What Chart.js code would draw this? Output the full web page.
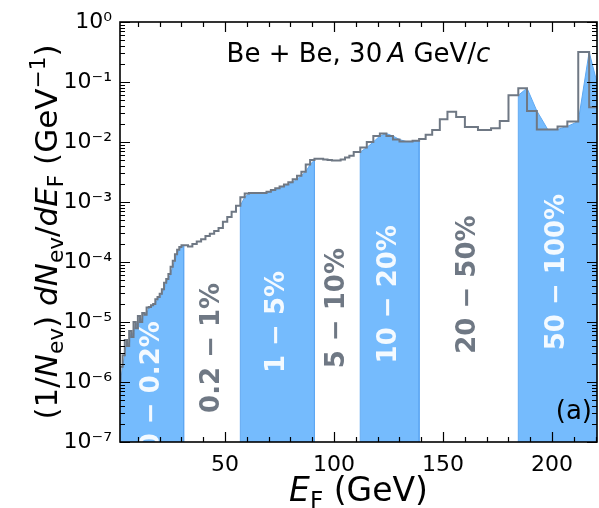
<!DOCTYPE html>
<html>
<head>
<meta charset="utf-8">
<script src="https://cdn.jsdelivr.net/npm/chart.js@4.4.1/dist/chart.umd.min.js"></script>
<style>
  html, body { margin: 0; padding: 0; background: #fff; }
  #wrap { width: 599px; height: 508px; }
</style>
</head>
<body>
<div id="wrap"><canvas id="chart" width="599" height="508"></canvas></div>
<script>
// E_F histogram: right edge of each bin (GeV) and its density (1/GeV)
const binEdge = [
  1, 2, 3, 4, 5, 6, 7, 8, 9, 10, 11, 12, 13, 14, 15, 16, 17, 18, 19, 20,
  21, 22, 23, 24, 25, 26, 27, 28, 29, 30, 31,
  33, 35, 37, 39, 41, 43, 45, 47, 49, 51, 53, 55, 57, 59, 61, 63, 65, 67, 69,
  71, 73, 75, 77, 79, 81, 83, 85, 87, 89, 91, 93, 95, 97, 99, 101, 103, 105, 107, 109,
  112, 115, 118, 121, 124, 127, 130, 133, 136, 139, 142, 145, 148.5, 152, 156, 160,
  166, 172, 176, 180, 184.5, 188.5, 193, 198, 202.5, 207, 212, 217, 223.5
];
const density = [
  5.0e-7, 1.0e-6, 1.8e-6, 2.8e-6, 5.0e-6, 4.0e-6, 7.1e-6, 5.6e-6, 1.0e-5, 7.9e-6,
  1.26e-5, 1.0e-5, 1.41e-5, 1.32e-5, 1.74e-5, 1.78e-5, 1.9e-5, 2.0e-5, 2.4e-5, 2.6e-5,
  2.95e-5, 3.5e-5, 4.5e-5, 5.2e-5, 6.3e-5, 8.3e-5, 1.05e-4, 1.35e-4, 1.6e-4, 1.78e-4, 1.9e-4,
  1.9e-4, 1.82e-4, 2.0e-4, 2.2e-4, 2.4e-4, 2.7e-4, 2.95e-4, 3.3e-4, 3.7e-4, 4.7e-4,
  5.6e-4, 6.9e-4, 8.7e-4, 1.2e-3, 1.38e-3, 1.41e-3, 1.41e-3, 1.41e-3, 1.41e-3,
  1.48e-3, 1.58e-3, 1.7e-3, 1.82e-3, 1.95e-3, 2.14e-3, 2.4e-3, 2.75e-3, 3.2e-3, 4.2e-3,
  5.0e-3, 5.25e-3, 5.25e-3, 5.1e-3, 5.0e-3, 4.9e-3, 4.9e-3, 5.1e-3, 5.5e-3, 5.9e-3,
  6.8e-3, 8.1e-3, 1.0e-2, 1.26e-2, 1.38e-2, 1.26e-2, 1.1e-2, 1.02e-2, 1.02e-2, 1.05e-2,
  1.12e-2, 1.32e-2, 1.58e-2, 2.4e-2, 3.2e-2, 2.6e-2,
  1.78e-2, 1.58e-2, 1.7e-2, 2.24e-2, 6.0e-2, 7.9e-2, 3.3e-2, 1.62e-2, 1.62e-2, 1.82e-2,
  2.2e-2, 0.316, 3.8e-2
];

// centrality classes: limits in E_F (GeV), names, height of the label
const classEdges = [0, 31, 57, 91, 112, 139, 184.5, 230];
const classNames = ["0 − 0.2%", "0.2 − 1%", "1 − 5%", "5 − 10%", "10 − 20%", "20 − 50%", "50 − 100%"];
const classLabelY = [8.5e-7, 3.7e-6, 1.0e-5, 1.7e-5, 2.9e-5, 4.2e-5, 6.8e-5];

const xTicks = [50, 100, 150, 200];
const yTicks = [1e-7, 1e-6, 1e-5, 1e-4, 1e-3, 1e-2, 1e-1, 1];
const yTickLabels = ["10⁻⁷", "10⁻⁶", "10⁻⁵", "10⁻⁴", "10⁻³", "10⁻²", "10⁻¹", "10⁰"];

const X_MIN = 1.8, X_MAX = 220.6;
const FONT = '"DejaVu Sans", Verdana, sans-serif';
const GRAY = "#6f7884";
const BLUE = "#75bbfd";

const points = binEdge.map((x, i) => ({ x: x, y: density[i] }));

// blue bands for every second class
const bandSets = [];
for (let k = 0; k < classNames.length; k += 2) {
  const lo = classEdges[k], hi = classEdges[k + 1];
  const pts = points.filter(p => p.x >= lo && p.x <= hi);
  bandSets.push({
    data: [{ x: pts[0].x, y: yTicks[0] }, ...pts, { x: pts[pts.length - 1].x, y: yTicks[0] }],
    borderColor: "#5ea8f2",
    borderWidth: 1,
    backgroundColor: BLUE,
    fill: "start",
    pointRadius: 0,
    tension: 0
  });
}

// draw text made of pieces (italic / sub / sup)
function drawRich(ctx, parts, x, y, size, align) {
  const pieces = parts.map(p => {
    const s = p.s ? size * 0.7 : size;
    const f = (p.i ? "italic " : "") + s + "px " + FONT;
    ctx.font = f;
    return { t: p.t, f: f, w: ctx.measureText(p.t).width, dy: p.s === "sub" ? size * 0.2 : p.s === "sup" ? -size * 0.4 : 0 };
  });
  const total = pieces.reduce((a, p) => a + p.w, 0);
  let cx = align === "right" ? x - total : x - total / 2;
  ctx.textAlign = "left";
  ctx.textBaseline = "alphabetic";
  pieces.forEach(p => {
    ctx.font = p.f;
    ctx.fillText(p.t, cx, y + p.dy);
    cx += p.w;
  });
}

const decor = {
  id: "decor",
  afterDatasetsDraw(chart) {
    const { ctx, chartArea: a, scales: { x, y } } = chart;
    // class labels, clipped to the plot box
    ctx.save();
    ctx.beginPath();
    ctx.rect(a.left, a.top, a.right - a.left, a.bottom - a.top);
    ctx.clip();
    classNames.forEach((name, k) => {
      const lo = Math.max(classEdges[k], X_MIN), hi = Math.min(classEdges[k + 1], X_MAX);
      const px = x.getPixelForValue((lo + hi) / 2);
      const py = y.getPixelForValue(classLabelY[k]);
      ctx.save();
      ctx.translate(px, py);
      ctx.rotate(-Math.PI / 2);
      ctx.font = "bold 26px " + FONT;
      ctx.textAlign = "center";
      ctx.textBaseline = "middle";
      ctx.fillStyle = k % 2 === 0 ? "rgba(255,255,255,0.92)" : GRAY;
      ctx.fillText(name, 0, 0);
      ctx.restore();
    });
    ctx.restore();
  },
  afterDraw(chart) {
    const { ctx, chartArea: a, scales: { x, y } } = chart;
    ctx.save();
    ctx.strokeStyle = "#000";
    ctx.lineWidth = 1.2;
    ctx.beginPath();
    // x ticks, inward, bottom and top
    for (let v = 10; v < X_MAX; v += 10) {
      const px = Math.round(x.getPixelForValue(v)) + 0.5;
      const len = v % 50 === 0 ? 10 : 5;
      ctx.moveTo(px, a.bottom); ctx.lineTo(px, a.bottom - len);
      ctx.moveTo(px, a.top); ctx.lineTo(px, a.top + len);
    }
    // y ticks, log decades and minors
    for (let d = -7; d <= 0; d++) {
      for (let m = 1; m <= 9; m++) {
        const v = m * Math.pow(10, d);
        if (v > 1) break;
        const py = Math.round(y.getPixelForValue(v)) + 0.5;
        const len = m === 1 ? 10 : 5;
        ctx.moveTo(a.left, py); ctx.lineTo(a.left + len, py);
        ctx.moveTo(a.right, py); ctx.lineTo(a.right - len, py);
      }
    }
    ctx.stroke();
    ctx.lineWidth = 1.6;
    ctx.strokeRect(a.left, a.top, a.right - a.left, a.bottom - a.top);

    ctx.fillStyle = "#000";
    // title
    drawRich(ctx, [{ t: "Be + Be, 30\u2009" }, { t: "A", i: 1 }, { t: " GeV/" }, { t: "c", i: 1 }],
      (a.left + a.right) / 2, 62, 26);
    // panel tag
    drawRich(ctx, [{ t: "(a)" }], 592, 419, 26, "right");
    // x axis title
    drawRich(ctx, [{ t: "E", i: 1 }, { t: "F", s: "sub" }, { t: " (GeV)" }],
      (a.left + a.right) / 2, 501, 33);
    // y axis title
    ctx.save();
    ctx.translate(57, (a.top + a.bottom) / 2);
    ctx.rotate(-Math.PI / 2);
    drawRich(ctx, [
      { t: "(1/" }, { t: "N", i: 1 }, { t: "ev", s: "sub" }, { t: ") " },
      { t: "dN", i: 1 }, { t: "ev", s: "sub" }, { t: "/" }, { t: "dE", i: 1 }, { t: "F", s: "sub" },
      { t: " (GeV" }, { t: "−1", s: "sup" }, { t: ")" }
    ], 0, 0, 31);
    ctx.restore();
    ctx.restore();
  }
};

const ctx = document.getElementById("chart").getContext("2d");
new Chart(ctx, {
  type: "line",
  data: {
    datasets: [
      {
        data: points,
        stepped: "after",
        borderColor: GRAY,
        borderWidth: 2,
        pointRadius: 0,
        fill: false
      },
      ...bandSets
    ]
  },
  options: {
    responsive: false,
    animation: false,
    layout: { padding: { top: 22, right: 2, left: 0, bottom: 0 } },
    plugins: { legend: { display: false }, tooltip: { enabled: false } },
    scales: {
      x: {
        type: "linear",
        min: X_MIN,
        max: X_MAX,
        grid: { display: false, drawTicks: false, tickLength: 0 },
        border: { display: false },
        afterBuildTicks: s => { s.ticks = xTicks.map(v => ({ value: v })); },
        afterFit: s => { s.height = 66; },
        ticks: {
          font: { family: FONT, size: 22 },
          color: "#000",
          padding: 10,
          maxRotation: 0,
          autoSkip: false
        }
      },
      y: {
        type: "logarithmic",
        min: 1e-7,
        max: 1,
        grid: { display: false, drawTicks: false, tickLength: 0 },
        border: { display: false },
        afterBuildTicks: s => { s.ticks = yTicks.map(v => ({ value: v })); },
        afterFit: s => { s.width = 120; },
        ticks: {
          font: { family: FONT, size: 22 },
          color: "#000",
          padding: 8,
          autoSkip: false,
          callback: v => yTickLabels[yTicks.findIndex(t => Math.abs(Math.log10(t) - Math.log10(v)) < 1e-6)]
        }
      }
    }
  },
  plugins: [decor]
});
</script>
</body>
</html>
